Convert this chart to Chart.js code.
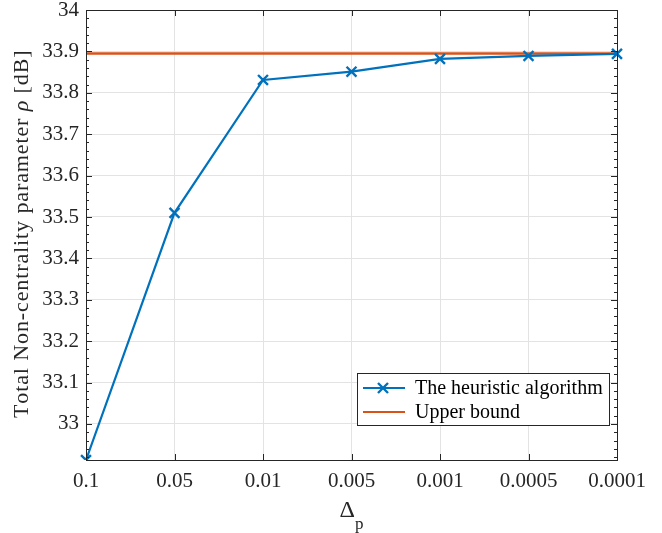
<!DOCTYPE html>
<html>
<head>
<meta charset="utf-8">
<script src="https://cdn.jsdelivr.net/npm/chart.js@4/dist/chart.umd.min.js"></script>
<style>
html,body{margin:0;padding:0;background:#fff;}
#wrap{width:662px;height:533px;position:relative;}
</style>
</head>
<body>
<div id="wrap"><canvas id="c" width="662" height="533"></canvas></div>
<script>
const categories = ['0.1', '0.05', '0.01', '0.005', '0.001', '0.0005', '0.0001'];
const heuristic = [32.913, 33.51, 33.831, 33.851, 33.882, 33.889, 33.894];
const upperBound = [33.895, 33.895, 33.895, 33.895, 33.895, 33.895, 33.895];
const yMajorTicks = [33, 33.1, 33.2, 33.3, 33.4, 33.5, 33.6, 33.7, 33.8, 33.9, 34];
const yMinorStep = 0.02;
const yMin = 32.913, yMax = 34;
const seriesLabels = ['The heuristic algorithm', 'Upper bound'];

const FONT = '"Liberation Serif", "Times New Roman", serif';
const AXC = '#262626';

const decor = {
  id: 'decor',
  afterDraw(chart) {
    const ctx = chart.ctx, a = chart.chartArea, ys = chart.scales.y, xs = chart.scales.x;
    ctx.save();
    // frame
    ctx.strokeStyle = AXC; ctx.lineWidth = 1;
    ctx.strokeRect(Math.round(a.left) + 0.5, Math.round(a.top) + 0.5, Math.round(a.right - a.left), Math.round(a.bottom - a.top));
    // y ticks
    ctx.beginPath();
    for (let v = 32.92; v <= yMax + 1e-9; v += yMinorStep) {
      const y = Math.round(ys.getPixelForValue(v)) + 0.5;
      const major = yMajorTicks.some(t => Math.abs(t - v) < 1e-6);
      const L = major ? 6 : 3;
      ctx.moveTo(a.left, y); ctx.lineTo(a.left + L, y);
      ctx.moveTo(a.right, y); ctx.lineTo(a.right - L, y);
    }
    // x ticks
    for (let i = 0; i < categories.length; i++) {
      const x = Math.round(xs.getPixelForValue(i)) + 0.5;
      ctx.moveTo(x, a.bottom); ctx.lineTo(x, a.bottom - 6);
      ctx.moveTo(x, a.top); ctx.lineTo(x, a.top + 6);
    }
    ctx.stroke();

    // x title: Δ with subscript p
    ctx.fillStyle = AXC;
    ctx.textBaseline = 'alphabetic';
    const cx = (a.left + a.right) / 2;
    ctx.font = '24px ' + FONT;
    const wD = ctx.measureText('Δ').width;
    ctx.font = '17px ' + FONT;
    const wp = ctx.measureText('p').width;
    const x0 = cx - (wD + wp) / 2;
    ctx.font = '24px ' + FONT;
    ctx.textAlign = 'left';
    ctx.fillText('Δ', x0, 517);
    ctx.font = '17px ' + FONT;
    ctx.fillText('p', x0 + wD, 529);

    // y title with italic rho
    const parts = [['Total Non-centrality parameter ', ''], ['ρ', 'italic '], [' [dB]', '']];
    const nChars = parts.reduce((s, p) => s + p[0].length, 0);
    let total = 0;
    for (const p of parts) { ctx.font = p[1] + '22px ' + FONT; total += ctx.measureText(p[0]).width; }
    const targetLen = 366;
    const ls = Math.max(0, (targetLen - total) / (nChars - 1));
    ctx.translate(28, (a.top + a.bottom) / 2);
    ctx.rotate(-Math.PI / 2);
    let xx = -targetLen / 2;
    for (const p of parts) {
      ctx.font = p[1] + '22px ' + FONT;
      for (const ch of p[0]) {
        ctx.fillText(ch, xx, 0);
        xx += ctx.measureText(ch).width + ls;
      }
    }
    ctx.setTransform(1, 0, 0, 1, 0, 0);

    // legend
    const lx = 357, ly = 373, lw = 252, lh = 52;
    ctx.fillStyle = '#fff';
    ctx.fillRect(lx, ly, lw, lh);
    ctx.strokeStyle = AXC; ctx.lineWidth = 1;
    ctx.strokeRect(lx + 0.5, ly + 0.5, lw, lh);
    const ds = chart.data.datasets;
    const rows = [ly + 15, ly + 39];
    for (let i = 0; i < ds.length; i++) {
      const y = rows[i];
      ctx.strokeStyle = ds[i].borderColor; ctx.lineWidth = 2;
      ctx.beginPath(); ctx.moveTo(lx + 6, y); ctx.lineTo(lx + 48, y); ctx.stroke();
      if (i === 0) {
        const m = 5, mx = lx + 26;
        ctx.lineWidth = 2.4;
        ctx.beginPath();
        ctx.moveTo(mx - m, y - m); ctx.lineTo(mx + m, y + m);
        ctx.moveTo(mx - m, y + m); ctx.lineTo(mx + m, y - m);
        ctx.stroke();
      }
      ctx.fillStyle = '#000';
      ctx.font = '20px ' + FONT;
      ctx.textBaseline = 'middle';
      ctx.textAlign = 'left';
      ctx.fillText(ds[i].label, lx + 58, y + 1);
    }
    ctx.restore();
  }
};

new Chart(document.getElementById('c'), {
  type: 'line',
  data: {
    labels: categories,
    datasets: [
      {
        label: seriesLabels[0], data: heuristic,
        borderColor: '#0072BD', backgroundColor: '#0072BD', borderWidth: 2.2,
        pointStyle: 'crossRot', pointRadius: 7, pointBorderWidth: 2.4, pointHoverRadius: 7,
        tension: 0, order: 1
      },
      {
        label: seriesLabels[1], data: upperBound,
        borderColor: '#D95319', backgroundColor: '#D95319', borderWidth: 2.5,
        pointRadius: 0, tension: 0, order: 2
      }
    ]
  },
  options: {
    responsive: false, animation: false, events: [],
    layout: { padding: { left: 0, top: 10, right: 45, bottom: 0 } },
    plugins: { legend: { display: false }, tooltip: { enabled: false } },
    scales: {
      x: {
        type: 'category', offset: false,
        grid: { color: '#e3e3e3', drawTicks: false, lineWidth: 1 },
        border: { display: false },
        ticks: { color: '#262626', font: { family: FONT, size: 21 }, padding: 9, maxRotation: 0, autoSkip: false },
        afterFit(s) { s.height = 73; s.paddingLeft = 0; s.paddingRight = 0; }
      },
      y: {
        type: 'linear', min: yMin, max: yMax,
        afterBuildTicks(s) { s.ticks = yMajorTicks.map(v => ({ value: v })); },
        grid: { color: '#e3e3e3', drawTicks: false, lineWidth: 1 },
        border: { display: false },
        ticks: {
          color: '#262626', font: { family: FONT, size: 21 }, padding: 7,
          callback: v => (Math.round(v * 10) / 10).toString()
        },
        afterFit(s) { s.width = 86; s.paddingTop = 0; s.paddingBottom = 0; }
      }
    }
  },
  plugins: [decor]
});
</script>
</body>
</html>
